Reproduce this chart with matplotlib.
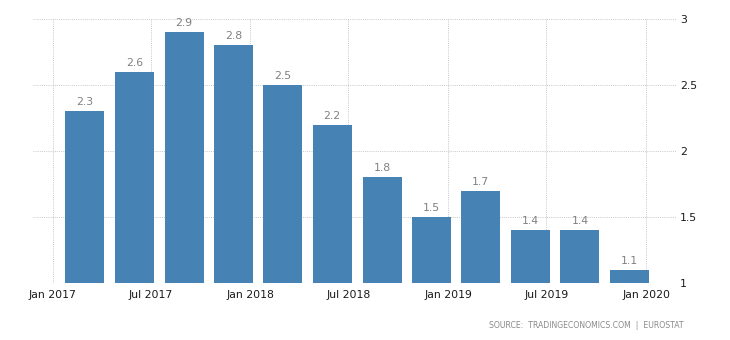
import matplotlib
matplotlib.use('Agg')
from matplotlib import pyplot as pl
import matplotlib.dates as mdates
import pandas as pd

# quarterly values, bars sit on the first day of each quarter's last month
quarters = ['2017-03-01', '2017-06-01', '2017-09-01', '2017-12-01',
            '2018-03-01', '2018-06-01', '2018-09-01', '2018-12-01',
            '2019-03-01', '2019-06-01', '2019-09-01', '2019-12-01']
values = [2.3, 2.6, 2.9, 2.8, 2.5, 2.2, 1.8, 1.5, 1.7, 1.4, 1.4, 1.1]

tick_dates = ['2017-01-01', '2017-07-01', '2018-01-01', '2018-07-01',
              '2019-01-01', '2019-07-01', '2020-01-01']
tick_labels = ['Jan 2017', 'Jul 2017', 'Jan 2018', 'Jul 2018',
               'Jan 2019', 'Jul 2019', 'Jan 2020']
yticks = [1, 1.5, 2, 2.5, 3]

pl.rcParams['font.family'] = ['DejaVu Sans']

fig = pl.figure(figsize=(7.3, 3.4), dpi=100)
ax = fig.add_axes([33/730, 57/340, (677-33)/730, (283-19)/340])

dates = pd.to_datetime(quarters)
x = mdates.date2num(dates)
ax.bar(x, values, width=72, color='#4682b4', zorder=2)

for xi, v in zip(x, values):
    ax.text(xi, v + 0.03, f'{v:.1f}', ha='center', va='bottom',
            fontsize=7.8, color='#808080')

ax.set_ylim(1, 3)
ax.set_xlim(mdates.date2num(pd.Timestamp('2016-11-26')),
            mdates.date2num(pd.Timestamp('2020-02-27')))

ax.set_xticks(mdates.date2num(pd.to_datetime(tick_dates)))
ax.set_xticklabels(tick_labels)
ax.set_yticks(yticks)
ax.set_yticklabels([f'{t:g}' for t in yticks])

ax.yaxis.tick_right()
ax.tick_params(axis='y', length=0, pad=2, labelsize=7.8, labelcolor='#1a1a1a')
ax.tick_params(axis='x', length=0, pad=5, labelsize=7.8, labelcolor='#1a1a1a')

ax.grid(True, color='#c8c8c8', linestyle=(0, (1, 1.2)), linewidth=0.7, zorder=0)
ax.set_axisbelow(True)
for s in ax.spines.values():
    s.set_visible(False)

fig.text(684/730, 1 - 325/340, 'SOURCE:  TRADINGECONOMICS.COM  |  EUROSTAT',
         ha='right', va='center', fontsize=5.6, color='#8a8a8a')

fig.savefig('out.png', dpi=100)
